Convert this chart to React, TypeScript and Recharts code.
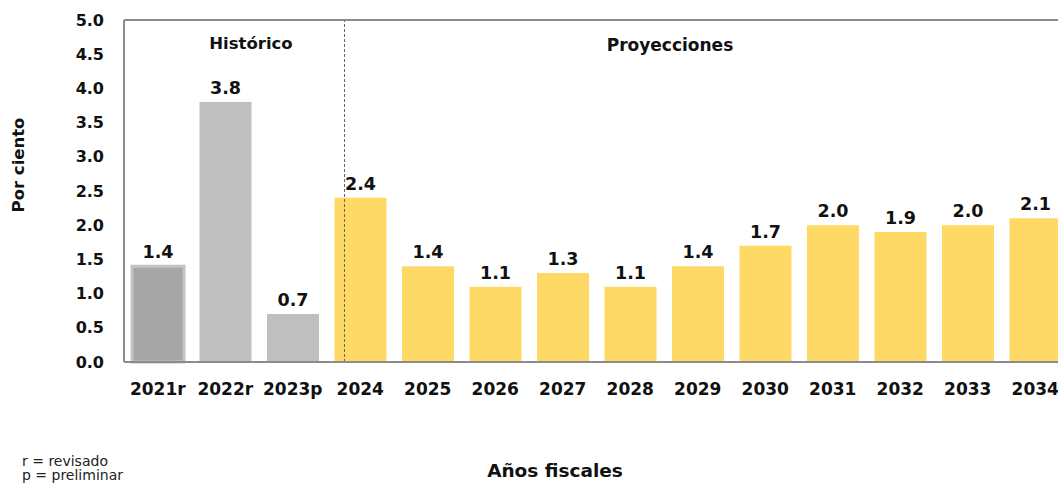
import { BarChart, Bar, XAxis, YAxis, Cell, LabelList, ReferenceLine } from "recharts";

const years = ["2021r", "2022r", "2023p", "2024", "2025", "2026", "2027", "2028", "2029", "2030", "2031", "2032", "2033", "2034"];
const growth = [1.4, 3.8, 0.7, 2.4, 1.4, 1.1, 1.3, 1.1, 1.4, 1.7, 2.0, 1.9, 2.0, 2.1];
const yTicks = [0, 0.5, 1, 1.5, 2, 2.5, 3, 3.5, 4, 4.5, 5];

const data = years.map((year, i) => ({ year, value: growth[i] }));

const FONT = "'DejaVu Sans', sans-serif";
const AXIS = "#8c8c8c";

function barColor(year: string) {
  if (year === "2021r") return "#a6a6a6";
  if (year.endsWith("r") || year.endsWith("p")) return "#bfbfbf";
  return "#ffd966";
}

// dashed divider drawn a bit inside the 2024 band
function Divider(props: any) {
  const x = props.x1 + 18;
  return (
    <line x1={x} y1={props.y1} x2={x} y2={props.y2} stroke="#666" strokeWidth={1} strokeDasharray="3 2" />
  );
}

export default function App() {
  return (
    <div
      style={{
        position: "fixed",
        left: 0,
        top: 0,
        width: 1058,
        height: 483,
        overflow: "hidden",
        background: "#fff",
        fontFamily: FONT,
      }}
    >
      <BarChart
        width={1075}
        height={400}
        data={data}
        margin={{ top: 20, right: 6, left: 0, bottom: 0 }}
        barSize={52}
      >
        <XAxis
          dataKey="year"
          tickLine={false}
          axisLine={{ stroke: AXIS, strokeWidth: 2 }}
          tick={{ fontSize: 17, fontWeight: 700, fill: "#111", fontFamily: FONT }}
          height={38}
          tickMargin={15}
          interval={0}
        />
        <YAxis
          domain={[0, 5]}
          ticks={yTicks}
          tickFormatter={(v: number) => v.toFixed(1)}
          tickLine={false}
          axisLine={{ stroke: AXIS, strokeWidth: 2 }}
          tick={{ fontSize: 16, fontWeight: 700, fill: "#111", fontFamily: FONT }}
          width={124}
          tickMargin={14}
        />
        <ReferenceLine y={5} stroke={AXIS} strokeWidth={2} />
        <Bar dataKey="value" isAnimationActive={false}>
          {data.map((d) => (
            <Cell
              key={d.year}
              fill={barColor(d.year)}
              stroke={d.year === "2021r" ? "#c4c4c4" : "none"}
              strokeWidth={d.year === "2021r" ? 3 : 0}
            />
          ))}
          <LabelList
            dataKey="value"
            position="top"
            offset={8}
            formatter={(v: any) => Number(v).toFixed(1)}
            style={{ fontSize: 17.5, fontWeight: 700, fill: "#111", fontFamily: FONT }}
          />
        </Bar>
        <ReferenceLine x="2024" position="start" shape={<Divider />} />
      </BarChart>

      <div style={{ position: "absolute", left: 251, top: 43, transform: "translate(-50%, -50%)", fontSize: 16.5, fontWeight: 700, color: "#111", whiteSpace: "nowrap" }}>
        Histórico
      </div>
      <div style={{ position: "absolute", left: 670, top: 45, transform: "translate(-50%, -50%)", fontSize: 17, fontWeight: 700, color: "#111", whiteSpace: "nowrap" }}>
        Proyecciones
      </div>
      <div
        style={{
          position: "absolute",
          left: 18,
          top: 165,
          transform: "translate(-50%, -50%) rotate(-90deg)",
          whiteSpace: "nowrap",
          fontSize: 16.5,
          fontWeight: 700,
          color: "#111",
        }}
      >
        Por ciento
      </div>
      <div style={{ position: "absolute", left: 555, top: 470, transform: "translate(-50%, -50%)", fontSize: 18.5, fontWeight: 700, color: "#111", whiteSpace: "nowrap" }}>
        Años fiscales
      </div>
      <div style={{ position: "absolute", left: 22, top: 454, fontSize: 14, lineHeight: "14px", color: "#222", whiteSpace: "nowrap" }}>
        r = revisado
        <br />
        p = preliminar
      </div>
    </div>
  );
}
